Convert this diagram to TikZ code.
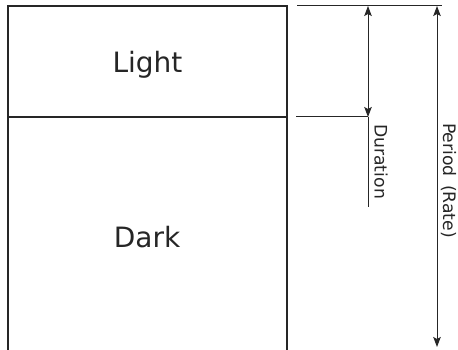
\documentclass[tikz,border=0pt]{standalone}
\usepackage{fontspec}
\setmainfont{DejaVu Sans}
\usetikzlibrary{arrows.meta}
\begin{document}
\begin{tikzpicture}[x=1pt,y=-1pt,
  frame/.style={line width=1.1pt,draw=black!85},
  rule/.style={line width=1pt,draw=black!85},
  tip/.tip={Stealth[length=10pt,width=7.5pt,inset=2pt]},
  dim/.style={line width=1pt,draw=black!85,tip-tip},
  big/.style={font=\fontsize{28}{32}\selectfont,text=black!85,inner sep=0pt},
  small/.style={font=\fontsize{17.2}{20}\selectfont,text=black!85,inner sep=0pt,rotate=-90,anchor=base west}]
\useasboundingbox (0,0) rectangle (458,350);
% box
\coordinate (bl) at (8,352);
\coordinate (tl) at (8,6);
\coordinate (tr) at (287,6);
\coordinate (br) at (287,352);
\coordinate (ml) at (8,117);
\coordinate (mr) at (287,117);
\draw[frame] (bl) -- (tl) -- (tr) -- (br);
\draw[frame] (ml) -- (mr);
\node[big,anchor=base] (light) at (147.5,73) {Light};
\node[big,anchor=base] (dark) at (147,247) {Dark};
% extension lines
\coordinate (t1) at (297,6);
\coordinate (t2) at (442,6);
\coordinate (m1) at (296,117);
\coordinate (m2) at (368,117);
\draw[rule] (t1) -- (t2);
\draw[rule] (m1) -- (m2);
% duration
\coordinate (dtop) at (368,6);
\coordinate (dend) at (368,207);
\draw[dim] (dtop) -- (m2);
\draw[rule] (m2) -- (dend);
\node[small] (dur) at (374.5,124) {Duration};
% period
\coordinate (ptop) at (437,6);
\coordinate (pbot) at (437,347);
\draw[dim] (ptop) -- (pbot);
\node[small] (per) at (443,123) {Period\ \,(Rate)};
\end{tikzpicture}
\end{document}
